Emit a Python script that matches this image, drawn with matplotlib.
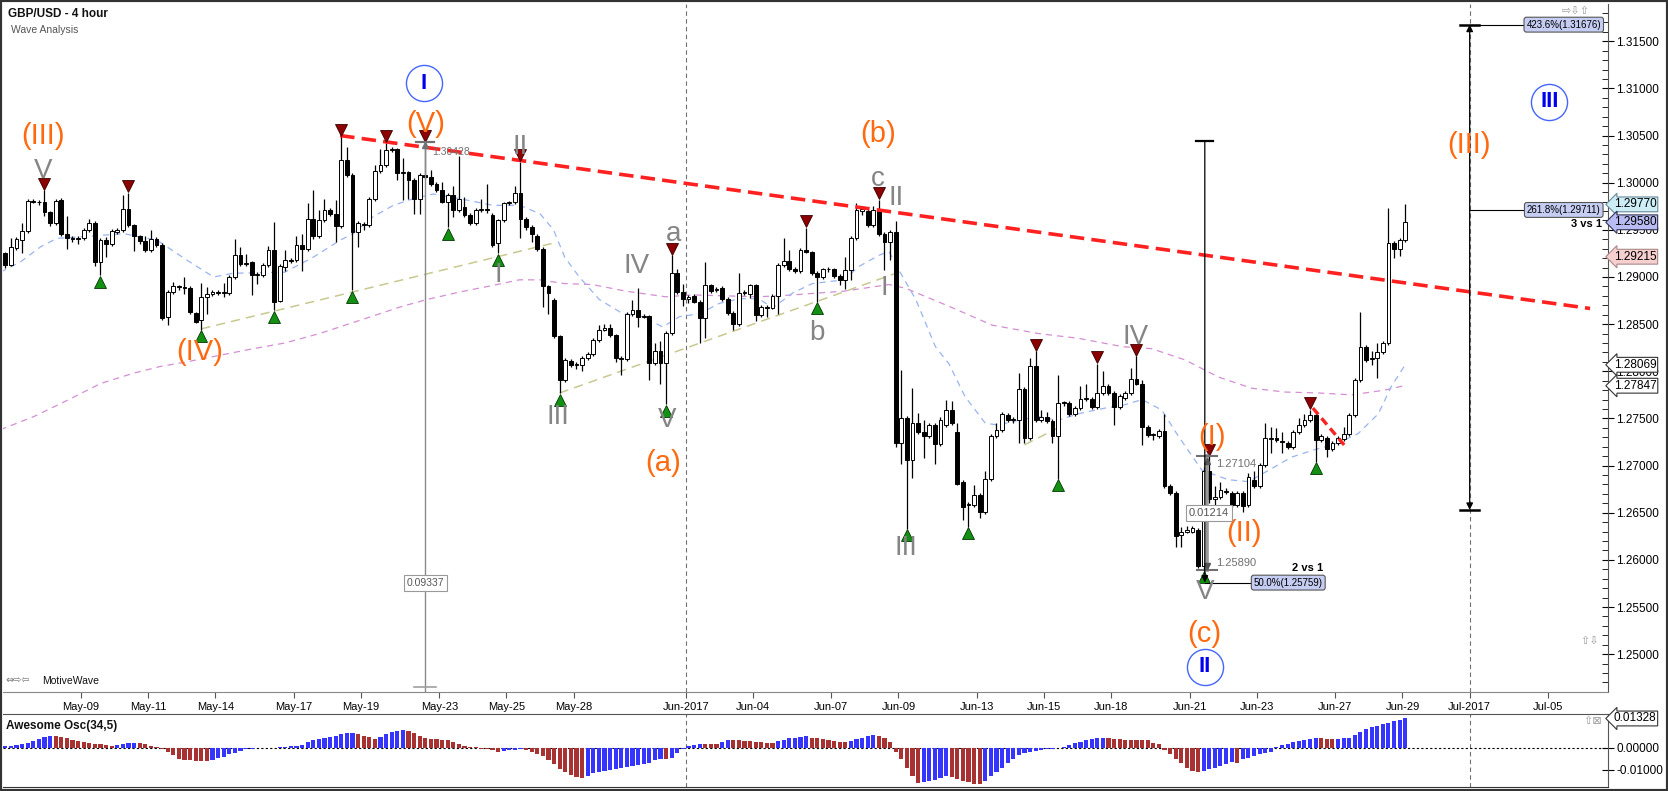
import datetime as dt
import numpy as np
import matplotlib
matplotlib.use("Agg")
import matplotlib.pyplot as plt
from matplotlib.ticker import FormatStrFormatter
from matplotlib.patches import Rectangle

plt.rcParams['font.family'] = ['Liberation Sans', 'DejaVu Sans']

# GBP/USD 4 hour candles, prices in pips (1e-4)
opens = [
    12925, 12913, 12931, 12939, 12949, 12981, 12980, 12979, 12969, 12957,
    12982, 12946, 12941, 12940, 12941, 12950, 12957, 12916, 12939, 12935,
    12948, 12950, 12972, 12955, 12944, 12938, 12929, 12940, 12934, 12858,
    12884, 12890, 12889, 12888, 12862, 12854, 12879, 12882, 12884, 12883,
    12883, 12900, 12923, 12914, 12916, 12902, 12902, 12913, 12929, 12875,
    12911, 12918, 12918, 12934, 12930, 12962, 12943, 12960, 12971, 12967,
    12954, 13024, 13008, 12948, 12956, 12955, 12983, 13012, 13019, 13035,
    13036, 13010, 13011, 13003, 12983, 13008, 13006, 12999, 12992, 12980,
    12987, 12971, 12974, 12966, 12957, 12971, 12972, 12966, 12936, 12960,
    12978, 12979, 12989, 12962, 12953, 12943, 12930, 12890, 12876, 12837,
    12791, 12811, 12807, 12807, 12814, 12818, 12833, 12844, 12846, 12838,
    12814, 12813, 12861, 12865, 12858, 12859, 12809, 12821, 12809, 12841,
    12904, 12884, 12877, 12880, 12874, 12856, 12891, 12886, 12888, 12877,
    12862, 12850, 12883, 12882, 12891, 12860, 12868, 12867, 12880, 12913,
    12917, 12909, 12906, 12929, 12926, 12904, 12900, 12908, 12909, 12901,
    12897, 12907, 12941, 12970, 12970, 12955, 12971, 12946, 12937, 12948,
    12724, 12750, 12706, 12745, 12736, 12731, 12743, 12723, 12743, 12759,
    12736, 12683, 12658, 12658, 12669, 12651, 12686, 12731, 12738, 12754,
    12748, 12748, 12781, 12729, 12806, 12748, 12752, 12747, 12731, 12766,
    12766, 12755, 12761, 12771, 12771, 12762, 12777, 12784, 12777, 12762,
    12772, 12777, 12792, 12787, 12741, 12732, 12731, 12737, 12678, 12671,
    12626, 12630, 12630, 12632, 12593, 12694, 12665, 12667, 12673, 12671,
    12658, 12671, 12658, 12685, 12678, 12701, 12728, 12729, 12726, 12724,
    12720, 12736, 12743, 12748, 12754, 12727, 12729, 12718, 12724, 12728,
    12733, 12754, 12791, 12826, 12813, 12814, 12820, 12830, 12936, 12930,
    12939]
highs = [
    12927, 12941, 12942, 12957, 12983, 12983, 12982, 12992, 12970, 12983,
    12984, 12965, 12943, 12943, 12952, 12961, 12959, 12941, 12942, 12951,
    12952, 12987, 12989, 12956, 12945, 12944, 12950, 12942, 12936, 12886,
    12895, 12892, 12900, 12890, 12863, 12894, 12889, 12886, 12886, 12894,
    12902, 12940, 12932, 12924, 12917, 12905, 12915, 12933, 12958, 12914,
    12929, 12920, 12943, 12946, 12978, 12992, 12971, 12983, 12973, 12982,
    13049, 13038, 13010, 12959, 12958, 12985, 13019, 13036, 13042, 13038,
    13037, 13026, 13012, 13005, 13010, 13043, 13013, 13001, 13001, 12989,
    12997, 13028, 12985, 12968, 12973, 12983, 12999, 12968, 12962, 12980,
    12981, 12996, 13022, 12964, 12955, 12946, 12932, 12892, 12878, 12839,
    12814, 12813, 12810, 12816, 12820, 12835, 12849, 12850, 12850, 12840,
    12816, 12863, 12876, 12888, 12861, 12860, 12830, 12832, 12843, 12923,
    12908, 12893, 12881, 12882, 12876, 12916, 12893, 12889, 12890, 12879,
    12864, 12904, 12886, 12893, 12893, 12870, 12870, 12882, 12915, 12941,
    12929, 12911, 12931, 12952, 12928, 12906, 12910, 12911, 12910, 12903,
    12921, 12944, 12978, 12975, 12972, 12975, 12982, 12948, 12950, 12959,
    12801, 12753, 12782, 12756, 12748, 12745, 12745, 12752, 12770, 12768,
    12745, 12685, 12661, 12679, 12671, 12694, 12733, 12745, 12757, 12756,
    12751, 12798, 12783, 12814, 12821, 12759, 12757, 12749, 12796, 12769,
    12768, 12763, 12784, 12787, 12773, 12808, 12800, 12786, 12779, 12776,
    12779, 12803, 12816, 12791, 12743, 12735, 12739, 12755, 12680, 12673,
    12635, 12636, 12636, 12634, 12698, 12710, 12678, 12683, 12676, 12673,
    12673, 12673, 12692, 12694, 12703, 12745, 12741, 12740, 12736, 12726,
    12738, 12750, 12755, 12759, 12756, 12733, 12731, 12726, 12731, 12741,
    12756, 12793, 12863, 12828, 12821, 12830, 12832, 12973, 12938, 12941,
    12977]
lows = [
    12910, 12912, 12929, 12925, 12947, 12978, 12976, 12965, 12954, 12955,
    12944, 12930, 12937, 12935, 12939, 12948, 12912, 12902, 12921, 12933,
    12946, 12948, 12953, 12928, 12935, 12927, 12927, 12932, 12854, 12849,
    12882, 12886, 12882, 12861, 12851, 12844, 12861, 12880, 12881, 12879,
    12881, 12898, 12912, 12912, 12881, 12893, 12900, 12911, 12865, 12873,
    12906, 12915, 12916, 12906, 12928, 12940, 12941, 12958, 12965, 12937,
    12952, 13006, 12886, 12932, 12950, 12953, 12981, 13010, 13017, 13033,
    13003, 12982, 12983, 12967, 12967, 13004, 12997, 12990, 12978, 12953,
    12964, 12969, 12964, 12955, 12955, 12969, 12968, 12932, 12925, 12958,
    12976, 12977, 12941, 12950, 12937, 12928, 12868, 12861, 12835, 12777,
    12789, 12805, 12802, 12800, 12812, 12816, 12831, 12843, 12836, 12810,
    12796, 12811, 12859, 12847, 12856, 12791, 12807, 12787, 12765, 12839,
    12882, 12869, 12872, 12872, 12830, 12835, 12883, 12884, 12875, 12860,
    12844, 12848, 12881, 12878, 12853, 12858, 12858, 12866, 12861, 12911,
    12906, 12904, 12904, 12925, 12902, 12874, 12898, 12905, 12899, 12892,
    12887, 12897, 12939, 12966, 12953, 12953, 12944, 12907, 12918, 12720,
    12702, 12633, 12687, 12734, 12708, 12729, 12702, 12721, 12741, 12743,
    12679, 12642, 12635, 12656, 12644, 12649, 12684, 12729, 12736, 12746,
    12745, 12724, 12724, 12727, 12746, 12746, 12745, 12724, 12686, 12763,
    12753, 12753, 12759, 12768, 12760, 12760, 12775, 12775, 12743, 12760,
    12770, 12775, 12785, 12722, 12730, 12727, 12729, 12676, 12669, 12614,
    12614, 12628, 12628, 12591, 12589, 12660, 12658, 12665, 12670, 12656,
    12656, 12651, 12656, 12676, 12676, 12699, 12713, 12725, 12713, 12718,
    12718, 12734, 12741, 12746, 12704, 12725, 12709, 12716, 12722, 12726,
    12731, 12752, 12789, 12810, 12807, 12793, 12818, 12828, 12920, 12922,
    12937]
closes = [
    12913, 12932, 12940, 12949, 12981, 12980, 12979, 12969, 12957, 12981,
    12946, 12941, 12940, 12941, 12950, 12957, 12916, 12939, 12935, 12949,
    12950, 12972, 12955, 12944, 12938, 12929, 12940, 12934, 12857, 12884,
    12890, 12889, 12888, 12863, 12852, 12879, 12882, 12884, 12883, 12884,
    12900, 12923, 12914, 12915, 12902, 12903, 12913, 12929, 12874, 12912,
    12918, 12917, 12934, 12930, 12962, 12943, 12960, 12971, 12967, 12954,
    13024, 13008, 12948, 12957, 12955, 12983, 13012, 13019, 13035, 13036,
    13010, 13011, 13003, 12983, 13008, 13006, 12999, 12992, 12980, 12987,
    12971, 12983, 12966, 12957, 12971, 12972, 12971, 12934, 12960, 12978,
    12979, 12989, 12962, 12953, 12946, 12930, 12890, 12883, 12837, 12791,
    12812, 12807, 12808, 12814, 12818, 12833, 12844, 12846, 12838, 12814,
    12813, 12861, 12865, 12858, 12859, 12809, 12821, 12809, 12841, 12904,
    12884, 12877, 12879, 12874, 12856, 12891, 12885, 12887, 12877, 12862,
    12850, 12883, 12884, 12891, 12860, 12868, 12867, 12880, 12913, 12917,
    12908, 12906, 12929, 12927, 12904, 12900, 12908, 12909, 12901, 12897,
    12907, 12941, 12971, 12972, 12955, 12971, 12946, 12937, 12948, 12724,
    12750, 12706, 12745, 12736, 12731, 12743, 12723, 12748, 12759, 12745,
    12681, 12656, 12659, 12669, 12651, 12686, 12731, 12738, 12755, 12748,
    12749, 12781, 12729, 12806, 12748, 12752, 12747, 12731, 12766, 12767,
    12755, 12761, 12771, 12772, 12762, 12777, 12784, 12777, 12762, 12774,
    12777, 12792, 12787, 12741, 12732, 12733, 12737, 12678, 12671, 12625,
    12630, 12632, 12634, 12593, 12694, 12665, 12667, 12674, 12672, 12658,
    12671, 12657, 12688, 12678, 12701, 12729, 12729, 12727, 12725, 12720,
    12736, 12743, 12748, 12754, 12727, 12731, 12718, 12724, 12729, 12733,
    12754, 12791, 12826, 12812, 12814, 12820, 12830, 12936, 12930, 12939,
    12958]

# Awesome Oscillator (34,5), in 1e-4
ao_vals = [
    8, 10, 13, 17, 23, 30, 40, 48, 53, 52,
    48, 44, 35, 30, 25, 20, 17, 15, 13, 10,
    13, 17, 20, 23, 20, 15, 10, 3, -8, -20,
    -35, -50, -55, -58, -59, -60, -61, -56, -48, -40,
    -30, -22, -14, -8, -4, -2, -1, -2, -1, 1,
    4, 7, 10, 14, 28, 35, 40, 45, 50, 53,
    62, 66, 68, 62, 55, 47, 38, 50, 62, 72,
    78, 80, 74, 66, 55, 45, 40, 38, 37, 35,
    25, 15, 8, 5, 3, -5, -8, -12, -18, -15,
    -12, -10, -8, -12, -20, -30, -38, -55, -75, -95,
    -112, -125, -133, -136, -130, -117, -110, -104, -100, -96,
    -92, -88, -83, -78, -74, -70, -55, -50, -53, -45,
    -25, -8, 8, 14, 18, 17, 16, 15, 25, 35,
    34, 33, 32, 30, 28, 25, 22, 20, 30, 37,
    42, 46, 50, 51, 46, 42, 38, 33, 30, 28,
    26, 30, 38, 45, 52, 58, 55, 45, 28, -18,
    -50, -90, -130, -160, -157, -152, -145, -138, -130, -135,
    -142, -150, -157, -163, -166, -150, -130, -110, -90, -70,
    -50, -35, -25, -20, -15, -10, -6, -4, -2, 5,
    12, 20, 27, 33, 38, 43, 45, 42, 40, 38,
    37, 36, 35, 34, 33, 22, 18, -10, -30, -50,
    -70, -90, -108, -110, -105, -98, -90, -82, -74, -66,
    -68, -50, -45, -38, -30, -25, -20, 5, 12, 18,
    24, 30, 35, 40, 44, 43, 41, 40, 41, 42,
    44, 58, 72, 84, 92, 100, 107, 113, 120, 127,
    132.8]

# moving averages, sampled along the chart (bar, pips)
blue_ma_bars = [-0.9, 2.7, 6.3, 9.2, 14.6, 21.1, 27.1, 32.4, 37.2, 40.7, 49.9, 55, 59.8,
                62.1, 65.7, 69.3, 72.8, 76.4, 81.2, 87.1, 91.9, 95.5, 97.9, 99.9, 102.5,
                106.1, 110.3, 113.8, 117.4, 120.4, 124, 127.5, 131.1, 134.6, 137, 140.6,
                144.1, 149.8, 152.4, 156, 157.8, 159.6, 162.6, 166.1, 168.5, 171.4, 175,
                177.3, 180.9, 184.5, 188, 191.6, 196.4, 199.6, 203, 206.5, 209.5, 213.7,
                218.4, 222, 225.6, 229.7, 233.9, 238, 241.6, 245.2, 247.5, 250]
blue_ma_vals = [12905, 12916, 12932, 12941, 12943, 12946, 12939, 12918, 12900, 12904, 12905,
                12921, 12939, 12946, 12964, 12976, 12983, 12988, 12983, 12976, 12976, 12967,
                12950, 12921, 12900, 12876, 12861, 12858, 12847, 12858, 12861, 12872, 12877,
                12877, 12867, 12883, 12893, 12897, 12911, 12923, 12927, 12907, 12876, 12826,
                12808, 12773, 12745, 12743, 12748, 12752, 12748, 12755, 12761, 12764, 12770,
                12759, 12731, 12695, 12685, 12683, 12695, 12709, 12717, 12724, 12734, 12755,
                12784, 12807]
purple_ma_bars = [-0.9, 5.1, 11, 17, 22.9, 27.6, 32.4, 38.3, 44.3, 49.9, 56.1, 63.3, 70.4,
                  75.2, 81.1, 87, 91.8, 95.4, 99.9, 104.8, 110.8, 117.9, 122.7, 128.6, 134.6,
                  140.6, 149.8, 157.8, 160.8, 168.5, 176.2, 184.5, 191.6, 199.6, 204.7, 210.7,
                  216.6, 222.6, 228.5, 234.5, 240.4, 246.3, 250]
purple_ma_vals = [12738, 12752, 12769, 12787, 12798, 12805, 12810, 12817, 12824, 12830, 12840,
                  12854, 12868, 12876, 12884, 12891, 12897, 12897, 12893, 12892, 12885, 12879,
                  12881, 12880, 12879, 12881, 12885, 12892, 12888, 12869, 12849, 12840, 12835,
                  12826, 12824, 12812, 12794, 12782, 12778, 12777, 12775, 12780, 12785]

# swing highs / lows flagged by triangles
pivot_highs = [7, 22, 60, 68, 75, 92, 119, 143, 156, 184, 195, 202, 215, 233]
pivot_lows = [17, 35, 48, 62, 79, 88, 99, 118, 145, 161, 172, 188, 214, 234]

# wave labels
wave_text = ['(III)', 'V', '(V)', 'II', '(IV)', 'I', 'III', 'IV', 'a', 'V', '(a)', 'b',
             '(b)', 'c', 'II', 'I', 'III', 'IV', '(I)', '(II)', 'V', '(c)', '(III)']
wave_bar = [6.7, 6.7, 75, 92, 34.8, 88, 98.6, 112.7, 119.3, 118.2, 117.5, 145,
            155.8, 155.8, 159, 157, 160.8, 201.8, 215.4, 221.2, 214.2, 214.2, 261.3]
wave_price = [1.30495, 1.30124, 1.30621, 1.30382, 1.28205, 1.2902, 1.27515, 1.29114,
              1.29456, 1.2748, 1.27027, 1.28406, 1.30516, 1.3004, 1.29838, 1.2888, 1.26126,
              1.28363, 1.27298, 1.26285, 1.2566, 1.25215, 1.3040]
wave_kind = ['o', 'g', 'o', 'g', 'o', 'g', 'g', 'g', 'g', 'g', 'o', 'g',
             'o', 'g', 'g', 'g', 'g', 'g', 'o', 'o', 'g', 'o', 'o']
circle_text = ['I', 'II', 'III']
circle_bar = [74.7, 214.2, 275.7]
circle_price = [1.31057, 1.24867, 1.30859]

# trend lines (bar, price)
red_line_bars = [59.8, 283]
red_line_prices = [1.30500, 1.28666]
small_red_bars = [233.5, 239.5]
small_red_prices = [1.2761, 1.2719]
khaki_lines = [([35, 97.9], [1.2845, 1.2936]),
               ([99, 160.5], [1.2777, 1.2907]),
               ([182, 188], [1.2722, 1.2740])]

tick_dates = ['2017-05-09', '2017-05-11', '2017-05-14', '2017-05-17', '2017-05-19',
              '2017-05-23', '2017-05-25', '2017-05-28', '2017-06-01', '2017-06-04',
              '2017-06-07', '2017-06-09', '2017-06-13', '2017-06-15', '2017-06-18',
              '2017-06-21', '2017-06-23', '2017-06-27', '2017-06-29', '2017-07-01',
              '2017-07-05']
tick_labels = ['May-09', 'May-11', 'May-14', 'May-17', 'May-19', 'May-23', 'May-25',
               'May-28', 'Jun-2017', 'Jun-04', 'Jun-07', 'Jun-09', 'Jun-13', 'Jun-15',
               'Jun-18', 'Jun-21', 'Jun-23', 'Jun-27', 'Jun-29', 'Jul-2017', 'Jul-05']

o = np.array(opens) / 1e4
h = np.array(highs) / 1e4
l = np.array(lows) / 1e4
c = np.array(closes) / 1e4
ao = np.array(ao_vals) / 1e4
x = np.arange(len(c))

# 4h bar calendar: Sunday has 2 bars, Mon-Fri 6, Saturday none
bar_day = []
d = dt.date(2017, 5, 5)
while len(bar_day) < 300:
    n = {5: 0, 6: 2}.get(d.weekday(), 6)
    bar_day.extend([d] * n)
    d += dt.timedelta(days=1)


def tick_pos(day_str):
    day = dt.date.fromisoformat(day_str)
    for i, bd in enumerate(bar_day):
        if bd >= day:
            return i - 0.5


xt = [tick_pos(s) for s in tick_dates]
month_lines = [xt[tick_labels.index('Jun-2017')], xt[tick_labels.index('Jul-2017')]]

W, H = 1668, 791
fig = plt.figure(figsize=(W / 100, H / 100), dpi=100)
fig.patch.set_facecolor('white')


def box(x0, y0, x1, y1):
    return [x0 / W, 1 - y1 / H, (x1 - x0) / W, (y1 - y0) / H]


ax = fig.add_axes(box(3, 4, 1608, 692))
ax_ao = fig.add_axes(box(3, 714, 1608, 787))
XLIM = (-0.41, 286.2)

GRAY = '#858585'
ORANGE = '#ff6a10'

# ---- main price panel ----
ax.set_xlim(*XLIM)
ax.set_ylim(1.24599, 1.31895)

for mx in month_lines:
    ax.axvline(mx, color='#707070', lw=0.8, ls=(0, (4, 3)), zorder=1)

ax.plot(purple_ma_bars, np.array(purple_ma_vals) / 1e4, color='#d38fd3', lw=0.9,
        ls=(0, (5, 4)), zorder=2)
ax.plot(blue_ma_bars, np.array(blue_ma_vals) / 1e4, color='#9ab4f0', lw=0.9,
        ls=(0, (5, 4)), zorder=2)
for kb, kp in khaki_lines:
    ax.plot(kb, kp, color='#c8c890', lw=1.1, ls=(0, (6, 4)), zorder=2)

up = c >= o
body_lo = np.minimum(o, c)
body_h = np.maximum(np.abs(c - o), 0.00004)
ax.vlines(x, l, h, color='black', lw=0.9, zorder=3)
ax.bar(x, body_h, bottom=body_lo, width=0.68, color=np.where(up, 'white', 'black'),
       edgecolor='black', linewidth=0.7, zorder=4)

ax.plot(red_line_bars, red_line_prices, color='#ff2020', lw=2.6, ls=(0, (4, 2)), zorder=5)
ax.plot(small_red_bars, small_red_prices, color='#ff2020', lw=2.4, ls=(0, (2.5, 1.5)), zorder=5)

ax.plot(pivot_highs, h[pivot_highs] + 0.0007, 'v', ms=8.5, mfc='#8b0000', mec='#3a0000',
        mew=0.6, zorder=6)
ax.plot(pivot_lows, l[pivot_lows] - 0.0007, '^', ms=8.5, mfc='#129012', mec='#053505',
        mew=0.6, zorder=6)

for t, b, p, k in zip(wave_text, wave_bar, wave_price, wave_kind):
    if k == 'o':
        ax.text(b, p, t, color=ORANGE, fontsize=21, ha='center', va='center', zorder=7)
    else:
        ax.text(b, p, t, color=GRAY, fontsize=20, ha='center', va='center', zorder=7)
for t, b, p in zip(circle_text, circle_bar, circle_price):
    ax.plot(b, p, 'o', ms=26, mfc='white', mec='#4466ff', mew=1.0, zorder=7)
    ax.text(b, p, t, color='#0000ee', fontsize=16, fontweight='bold', ha='center',
            va='center', zorder=8)

# gray measure at (V) top
mv_bar = 75
ax.plot([mv_bar, mv_bar], [1.30428, 1.2300], color='#8a8a8a', lw=1.0, zorder=6)
ax.plot([mv_bar - 1.6, mv_bar + 1.6], [1.30428, 1.30428], color='#707070', lw=1.6, zorder=6)
ax.plot([mv_bar - 2, mv_bar + 2], [1.2465, 1.2465], color='#a0a0a0', lw=1.2, zorder=6)
ax.plot(mv_bar, 1.30395, '^', ms=5, color='#707070', zorder=6)
ax.text(mv_bar + 1.3, 1.3033, '1.30428', color='#707070', fontsize=7.5, ha='left',
        va='center', zorder=8)
ax.text(mv_bar, 1.25754, '0.09337', color='#555555', fontsize=7.5, ha='center', va='center',
        zorder=8, bbox=dict(boxstyle='square,pad=0.25', fc='white', ec='#999999', lw=0.8))

# gray measure of wave (I)
mi_bar = 214.6
ax.plot([mi_bar, mi_bar], [1.25890, 1.27104], color='#9a9a9a', lw=2.6, zorder=6)
for yy in (1.27104, 1.25890):
    ax.plot([mi_bar - 1.8, mi_bar + 1.8], [yy, yy], color='#707070', lw=1.5, zorder=6)
ax.plot(mi_bar, 1.2705, '^', ms=5, color='#555555', zorder=6)
ax.plot(mi_bar, 1.2594, 'v', ms=5, color='#555555', zorder=6)
ax.text(mi_bar + 1.6, 1.27017, '1.27104', color='#707070', fontsize=8, ha='left',
        va='center', zorder=8)
ax.text(mi_bar + 1.6, 1.25964, '1.25890', color='#707070', fontsize=8, ha='left',
        va='center', zorder=8)
ax.text(mi_bar + 0.3, 1.26497, '0.01214', color='#555555', fontsize=8, ha='center',
        va='center', zorder=9, bbox=dict(boxstyle='square,pad=0.25', fc='white',
                                          ec='#999999', lw=0.8))

# black projection (2 vs 1)
p_bar = 214.2
ax.annotate('', xy=(p_bar, 1.25759), xytext=(p_bar, 1.30437),
            arrowprops=dict(arrowstyle='-|>', color='black', lw=0.9, mutation_scale=10,
                            shrinkA=0, shrinkB=0), zorder=6)
ax.plot([p_bar - 1.5, p_bar + 1.5], [1.30437, 1.30437], color='black', lw=1.6, zorder=6)
ax.plot([p_bar, 222.6], [1.25759, 1.25759], color='black', lw=0.8, zorder=6)
ax.text(229.1, 1.25759, '50.0%(1.25759)', fontsize=7, ha='center', va='center', zorder=9,
        bbox=dict(boxstyle='round,pad=0.25', fc='#c5cdf2', ec='#555555', lw=0.8))
ax.text(232.6, 1.25911, '2 vs 1', fontsize=8, fontweight='bold', ha='center', va='center',
        zorder=9)

# black projection (3 vs 1)
a_bar = month_lines[1]
ax.annotate('', xy=(a_bar, 1.31676), xytext=(a_bar, 1.2653),
            arrowprops=dict(arrowstyle='<|-|>', color='black', lw=0.9, mutation_scale=10,
                            shrinkA=0, shrinkB=0), zorder=6)
for yy in (1.31676, 1.2653):
    ax.plot([a_bar - 1.7, a_bar + 1.7], [yy, yy], color='black', lw=1.8, zorder=6)
for yy, lab in ((1.31676, '423.6%(1.31676)'), (1.29711, '261.8%(1.29711)')):
    ax.plot([a_bar, 271.0], [yy, yy], color='black', lw=0.8, zorder=6)
    ax.text(278.3, yy, lab, fontsize=7, ha='center', va='center', zorder=9,
            bbox=dict(boxstyle='round,pad=0.25', fc='#c5cdf2', ec='#555555', lw=0.8))
ax.text(282.3, 1.29562, '3 vs 1', fontsize=8, fontweight='bold', ha='center', va='center',
        zorder=9)

# axes / ticks
ax.yaxis.tick_right()
ax.set_yticks(np.arange(1.25, 1.3151, 0.005))
ax.set_yticks(np.arange(1.246, 1.3185, 0.001), minor=True)
ax.yaxis.set_major_formatter(FormatStrFormatter('%.5f'))
ax.tick_params(axis='y', which='major', direction='inout', length=8, labelsize=8.5, pad=2)
ax.tick_params(axis='y', which='minor', direction='in', length=4)
ax.set_xticks(xt)
ax.set_xticklabels(tick_labels, fontsize=8)
ax.tick_params(axis='x', direction='out', length=4, pad=3, color='#555555')
for side in ('top', 'left'):
    ax.spines[side].set_visible(False)
ax.spines['bottom'].set_color('#888888')
ax.spines['right'].set_color('#555555')


def axis_tag(axis, val, txt, fc, ec='#333333'):
    axis.text(1.0035, val, txt, transform=axis.get_yaxis_transform(), ha='left', va='center',
              fontsize=8.5, zorder=10, clip_on=False,
              bbox=dict(boxstyle='larrow,pad=0.12', fc=fc, ec=ec, lw=0.8))


axis_tag(ax, 1.29770, '1.29770', '#cdeef6', '#6a8a9a')
axis_tag(ax, 1.29580, '1.29580', '#b9bcf2', '#333355')
axis_tag(ax, 1.29215, '1.29215', '#f6cfcf', '#aa8888')
axis_tag(ax, 1.28069, '1.28069', 'white')
axis_tag(ax, 1.27847, '1.27847', 'white')

# ---- Awesome oscillator ----
ax_ao.set_xlim(*XLIM)
ax_ao.set_ylim(-0.01786, 0.01532)
for mx in month_lines:
    ax_ao.axvline(mx, color='#707070', lw=0.8, ls=(0, (4, 3)), zorder=1)
ax_ao.axhline(0, color='black', lw=0.8, ls=(0, (2, 2)), zorder=2)
rising = np.concatenate([[True], ao[1:] > ao[:-1]])
ax_ao.bar(x, ao, width=0.72, color=np.where(rising, '#3535ff', '#a83232'), zorder=3)
ax_ao.set_xticks([])
ax_ao.yaxis.tick_right()
ax_ao.set_yticks([-0.01, 0.0])
ax_ao.yaxis.set_major_formatter(FormatStrFormatter('%.5f'))
ax_ao.tick_params(axis='y', direction='inout', length=8, labelsize=8.5, pad=2)
ax_ao.spines['left'].set_visible(False)
ax_ao.spines['top'].set_color('#555555')
ax_ao.spines['right'].set_color('#555555')
ax_ao.spines['bottom'].set_color('#333333')
axis_tag(ax_ao, ao[-1], '%.5f' % ao[-1], 'white')

# ---- texts and frame ----
fig.text(8 / W, 1 - 14 / H, 'GBP/USD - 4 hour', fontsize=8.5, fontweight='bold',
         color='#111111', va='center')
fig.text(11 / W, 1 - 30 / H, 'Wave Analysis', fontsize=7.5, color='#555555', va='center')
fig.text(6 / W, 1 - 726 / H, 'Awesome Osc(34,5)', fontsize=8.5, fontweight='bold',
         color='#111111', va='center')
fig.text(5 / W, 1 - 681 / H, '⇔⇨⇦', fontsize=7, color='#777777', va='center',
         family='DejaVu Sans')
fig.text(42 / W, 1 - 681 / H, 'MotiveWave', fontsize=7.5, color='#111111', va='center')
fig.text(1562 / W, 1 - 11 / H, '⇨⇩⇧', fontsize=8, color='#9a9a9a', va='center',
         family='DejaVu Sans')
fig.text(1580 / W, 1 - 641 / H, '⇧⇩', fontsize=8, color='#9a9a9a', va='center',
         family='DejaVu Sans')
fig.text(1583 / W, 1 - 721 / H, '⇧⊠', fontsize=8, color='#9a9a9a', va='center',
         family='DejaVu Sans')
fig.patches.append(Rectangle((0, 0), 1, 1, transform=fig.transFigure, fill=False,
                             ec='#333333', lw=3))

fig.savefig('out.png', dpi=100, facecolor='white')
